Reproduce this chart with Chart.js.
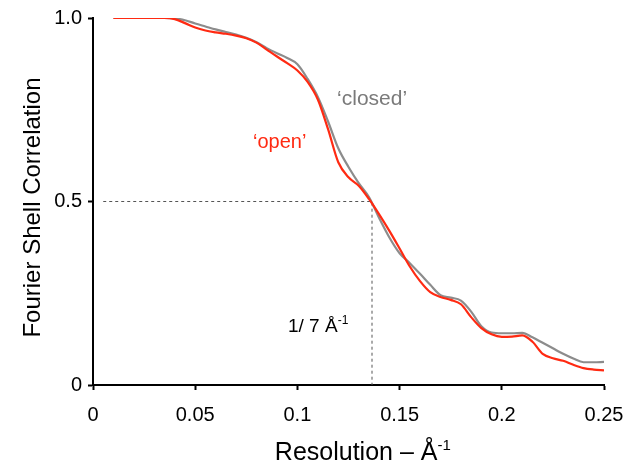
<!DOCTYPE html>
<html>
<head>
<meta charset="utf-8">
<script src="https://cdn.jsdelivr.net/npm/chart.js@4"></script>
<style>
	body { margin: 0; background: #fff; }
</style>
</head>
<body>
<canvas id="fsc" width="640" height="467"></canvas>
<script>
// resolution in 1/Angstrom
var resolution = [
	0.010, 0.015, 0.020, 0.025, 0.030, 0.035, 0.040, 0.045, 0.050, 0.055,
	0.060, 0.065, 0.070, 0.075, 0.080, 0.085, 0.090, 0.095, 0.100, 0.105,
	0.110, 0.115, 0.120, 0.125, 0.130, 0.135, 0.140, 0.145, 0.150, 0.155,
	0.160, 0.165, 0.170, 0.175, 0.180, 0.185, 0.190, 0.195, 0.200, 0.205,
	0.210, 0.215, 0.220, 0.225, 0.230, 0.235, 0.240, 0.245, 0.250,
];

var openFsc = [
	1.000, 1.000, 1.000, 1.000, 1.000, 1.000, 0.997, 0.986, 0.974, 0.966,
	0.961, 0.957, 0.952, 0.945, 0.933, 0.914, 0.895, 0.877, 0.857, 0.826,
	0.778, 0.697, 0.607, 0.566, 0.543, 0.507, 0.465, 0.420, 0.372, 0.323,
	0.283, 0.253, 0.240, 0.232, 0.220, 0.185, 0.155, 0.138, 0.131, 0.132,
	0.135, 0.118, 0.085, 0.073, 0.066, 0.055, 0.046, 0.042, 0.040,
];

var closedFsc = [
	1.000, 1.000, 1.000, 1.000, 1.000, 1.000, 0.999, 0.994, 0.985, 0.977,
	0.969, 0.962, 0.955, 0.946, 0.934, 0.918, 0.904, 0.891, 0.874, 0.834,
	0.785, 0.718, 0.645, 0.594, 0.550, 0.512, 0.455, 0.402, 0.359, 0.332,
	0.303, 0.273, 0.245, 0.238, 0.230, 0.200, 0.160, 0.143, 0.141, 0.141,
	0.142, 0.130, 0.115, 0.100, 0.085, 0.072, 0.062, 0.062, 0.063,
];

// 0.5 threshold guide
var guideX = [0.005, 0.1365, 0.1365];
var guideY = [0.5, 0.5, 0];

var xTicks = [0, 0.05, 0.1, 0.15, 0.2, 0.25];
var xTickLabels = ["0", "0.05", "0.1", "0.15", "0.2", "0.25"];
var yTicks = [0, 0.5, 1];
var yTickLabels = ["0", "0.5", "1.0"];

var FONT = '"Liberation Sans", Arial, Helvetica, sans-serif';

function toPoints(xs, ys) {
	return xs.map((x, i) => ({ x: x, y: ys[i] }));
}

function tickLabel(values, labels) {
	return (value) => {
		var i = values.findIndex((v) => Math.abs(v - value) < 1e-6);
		return i >= 0 ? labels[i] : "";
	};
}

// text with a superscript, drawn at (px, py) baseline
function drawSup(ctx, base, sup, px, py, size, supSize, rise, align) {
	ctx.font = size + "px " + FONT;
	var w1 = ctx.measureText(base).width;
	ctx.font = supSize + "px " + FONT;
	var w2 = ctx.measureText(sup).width;
	var left = align === "center" ? px - (w1 + w2) / 2 : px;
	ctx.textAlign = "left";
	ctx.textBaseline = "alphabetic";
	ctx.font = size + "px " + FONT;
	ctx.fillText(base, left, py);
	ctx.font = supSize + "px " + FONT;
	ctx.fillText(sup, left + w1, py - rise);
}

var notes = {
	id: "notes",
	afterDatasetsDraw(chart) {
		var ctx = chart.ctx;
		var x = chart.scales.x;
		var y = chart.scales.y;
		var area = chart.chartArea;
		ctx.save();

		ctx.fillStyle = "#7a7a7a";
		ctx.font = "21px " + FONT;
		ctx.textAlign = "left";
		ctx.textBaseline = "alphabetic";
		ctx.fillText("\u2018closed\u2019", x.getPixelForValue(0.1194), y.getPixelForValue(0.764));

		ctx.fillStyle = "#ff2a12";
		ctx.font = "20px " + FONT;
		ctx.fillText("\u2018open\u2019", x.getPixelForValue(0.0783), y.getPixelForValue(0.647));

		ctx.fillStyle = "#000";
		drawSup(ctx, "1/ 7 \u00c5", "-1", x.getPixelForValue(0.0954), y.getPixelForValue(0.144), 19, 12, 8, "left");

		// axis titles
		drawSup(ctx, "Resolution \u2013 \u00c5", "-1", area.left + area.width * 0.528, 460, 25, 15, 10, "center");

		ctx.save();
		ctx.translate(33, (area.top + area.bottom) / 2 + 6);
		ctx.rotate(-Math.PI / 2);
		ctx.font = "24px " + FONT;
		ctx.textAlign = "center";
		ctx.textBaseline = "middle";
		ctx.fillText("Fourier Shell Correlation", 0, 0);
		ctx.restore();

		ctx.restore();
	},
};

var lineStyle = {
	borderWidth: 2.2,
	pointRadius: 0,
	fill: false,
	cubicInterpolationMode: "monotone",
};

new Chart(document.getElementById("fsc"), {
	type: "line",
	data: {
		datasets: [
			Object.assign({ label: "open", data: toPoints(resolution, openFsc), borderColor: "#ff2a12" }, lineStyle),
			Object.assign({ label: "closed", data: toPoints(resolution, closedFsc), borderColor: "#8c8c8c" }, lineStyle),
			{
				label: "threshold",
				data: toPoints(guideX, guideY),
				borderColor: "#555",
				borderWidth: 1,
				borderDash: [3, 3],
				pointRadius: 0,
				tension: 0,
			},
		],
	},
	options: {
		responsive: false,
		animation: false,
		layout: { padding: { top: 17, right: 36, bottom: 0, left: 0 } },
		plugins: {
			legend: { display: false },
			tooltip: { enabled: false },
		},
		scales: {
			x: {
				type: "linear",
				min: 0,
				max: 0.25,
				afterFit: (scale) => {
					scale.height = 82;
				},
				afterBuildTicks: (scale) => {
					scale.ticks = xTicks.map((v) => ({ value: v }));
				},
				ticks: {
					callback: tickLabel(xTicks, xTickLabels),
					font: { size: 20, family: FONT },
					color: "#000",
					padding: 13,
					maxRotation: 0,
				},
				grid: { drawOnChartArea: false, tickLength: 5, tickColor: "#000", tickWidth: 2 },
				border: { color: "#000", width: 2 },
			},
			y: {
				min: 0,
				max: 1,
				afterFit: (scale) => {
					scale.width = 93;
				},
				afterBuildTicks: (scale) => {
					scale.ticks = yTicks.map((v) => ({ value: v }));
				},
				ticks: {
					callback: tickLabel(yTicks, yTickLabels),
					font: { size: 20, family: FONT },
					color: "#000",
					padding: 6,
				},
				grid: { drawOnChartArea: false, tickLength: 5, tickColor: "#000", tickWidth: 2 },
				border: { color: "#000", width: 2 },
			},
		},
	},
	plugins: [notes],
});
</script>
</body>
</html>
